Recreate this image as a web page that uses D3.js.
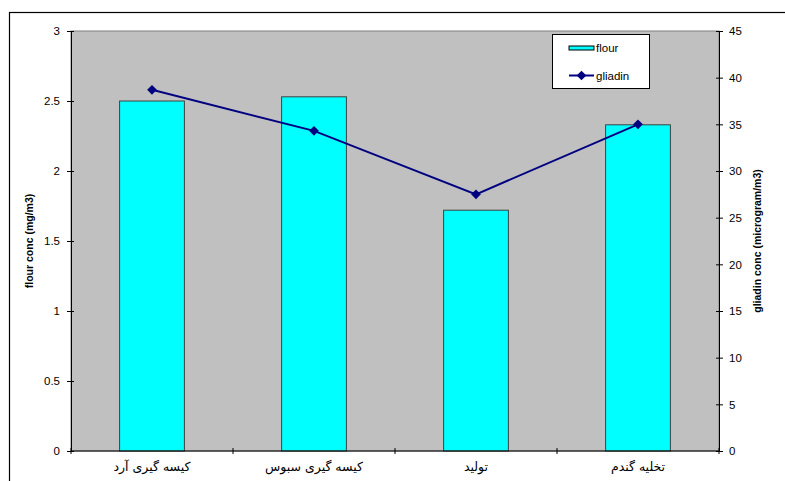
<!DOCTYPE html>
<html>
<head>
<meta charset="utf-8">
<script src="https://cdn.jsdelivr.net/npm/d3@7"></script>
<style>
body{margin:0;background:#fff}
svg{display:block;font-family:"Liberation Sans",Arial,"DejaVu Sans",sans-serif}
</style>
</head>
<body>
<svg></svg>
<script>
var screen = {width:785,height:481}
var margins = {top:31,right:66,bottom:30,left:71}

// data
var categories = ["کیسه گیری آرد","کیسه گیری سبوس","تولید","تخلیه گندم"]
var flour = [2.5,2.53,1.72,2.33]
var gliadin = [38.7,34.3,27.5,35.0]
var leftTicks = [0,0.5,1,1.5,2,2.5,3]
var rightTicks = [0,5,10,15,20,25,30,35,40,45]

var svg = d3.select("svg")
    .attr("width",screen.width)
    .attr("height",screen.height)

var width = screen.width - margins.left - margins.right
var height = screen.height - margins.top - margins.bottom

// outer chart frame (runs off the window at right/bottom)
svg.append("rect")
    .attr("x",9.5).attr("y",12.5)
    .attr("width",790).attr("height",490)
    .attr("fill","white").attr("stroke","black").attr("stroke-width",1.2)

var g = svg.append("g")
    .attr("transform","translate("+margins.left+","+margins.top+")")

var xScale = d3.scaleBand()
    .domain(categories)
    .range([0,width])
    .paddingInner(0.6)
    .paddingOuter(0.3)

var xPoint = function(c){ return xScale(c) + xScale.bandwidth()/2 }

var yLeft = d3.scaleLinear().domain([0,3]).range([height,0])
var yRight = d3.scaleLinear().domain([0,45]).range([height,0])

// plot area
g.append("rect")
    .attr("width",width).attr("height",height)
    .attr("fill","#c0c0c0")
    .attr("stroke","#808080")

// bars
g.selectAll(".bar")
    .data(flour)
    .enter()
    .append("rect")
    .attr("class","bar")
    .attr("x",function(d,i){ return xScale(categories[i]) })
    .attr("width",xScale.bandwidth())
    .attr("y",function(d){ return yLeft(d) })
    .attr("height",function(d){ return height - yLeft(d) })
    .attr("fill","#00ffff")
    .attr("stroke","#404040")
    .attr("stroke-width",1)

// gliadin line
var line = d3.line()
    .x(function(d,i){ return xPoint(categories[i]) })
    .y(function(d){ return yRight(d) })

g.append("path")
    .datum(gliadin)
    .attr("d",line)
    .attr("fill","none")
    .attr("stroke","#000080")
    .attr("stroke-width",2)

var diamond = d3.symbol().type(d3.symbolDiamond2).size(60)
g.selectAll(".pt")
    .data(gliadin)
    .enter()
    .append("path")
    .attr("class","pt")
    .attr("d",diamond)
    .attr("transform",function(d,i){ return "translate("+xPoint(categories[i])+","+yRight(d)+")" })
    .attr("fill","#000080")

// axes
var leftAxis = d3.axisLeft(yLeft).tickValues(leftTicks).tickSizeInner(4).tickSizeOuter(0).tickPadding(7)
    .tickFormat(d3.format("~g"))
var rightAxis = d3.axisRight(yRight).tickValues(rightTicks).tickSizeInner(4).tickSizeOuter(0).tickPadding(6)

var la = g.append("g").call(leftAxis)
var ra = g.append("g").attr("transform","translate("+width+",0)").call(rightAxis)

// category boundary ticks on x axis
var bounds = d3.range(categories.length+1).map(function(i){ return i*width/categories.length })
var xa = g.append("g").attr("transform","translate(0,"+height+")")
xa.append("line").attr("x1",0).attr("x2",width).attr("stroke","black")
xa.selectAll(".bt").data(bounds).enter().append("line")
    .attr("x1",function(d){ return d }).attr("x2",function(d){ return d })
    .attr("y1",-3).attr("y2",3).attr("stroke","black")
xa.selectAll("text").data(categories).enter().append("text")
    .attr("x",function(d){ return xPoint(d) })
    .attr("y",20)
    .attr("text-anchor","middle")
    .attr("font-size",12.5)
    .attr("font-family","'DejaVu Sans',sans-serif")
    .style("letter-spacing","0.3px")
    .text(function(d){ return d })

;[la,ra].forEach(function(a){
    a.selectAll("text").attr("font-size",11.5).attr("fill","black")
    a.select(".domain").attr("stroke","black")
    a.selectAll(".tick line").attr("stroke","black")
})
// cross ticks
la.selectAll(".tick line").attr("x1",3)
ra.selectAll(".tick line").attr("x1",-3)

// axis titles
svg.append("text")
    .attr("transform","translate(33,"+(margins.top+height/2)+") rotate(-90)")
    .attr("text-anchor","middle")
    .attr("font-size",10.5).attr("font-weight","bold")
    .text("flour conc (mg/m3)")

svg.append("text")
    .attr("transform","translate(761,"+(margins.top+height/2)+") rotate(-90)")
    .attr("text-anchor","middle")
    .attr("font-size",10.5).attr("font-weight","bold")
    .text("gliadin conc (microgram/m3)")

// legend
var lg = svg.append("g").attr("transform","translate(552,34)")
lg.append("rect").attr("x",0.5).attr("y",0.5).attr("width",97).attr("height",54)
    .attr("fill","white").attr("stroke","black")
lg.append("rect").attr("x",17).attr("y",12).attr("width",25).attr("height",4)
    .attr("fill","#00ffff").attr("stroke","black")
lg.append("text").attr("x",44).attr("y",18).attr("font-size",11.5).text("flour")
lg.append("line").attr("x1",17).attr("x2",42).attr("y1",41.5).attr("y2",41.5)
    .attr("stroke","#000080").attr("stroke-width",2)
lg.append("path").attr("d",diamond).attr("transform","translate(29.5,41.5)").attr("fill","#000080")
lg.append("text").attr("x",44).attr("y",45.5).attr("font-size",11.5).text("gliadin")
</script>
</body>
</html>
